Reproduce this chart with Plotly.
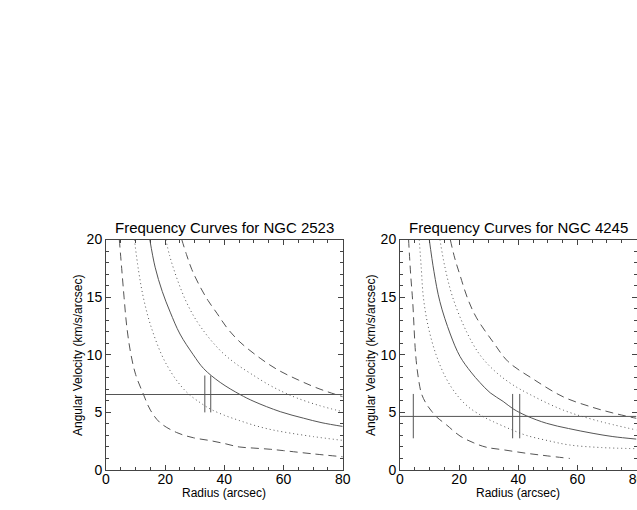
import plotly.graph_objects as go

# NGC 2523 (left panel)
l_solid_x = [14.8, 16.6, 19, 21.7, 25, 29.5, 33, 38.6, 45.3, 50, 58.9, 66.7, 73, 80]
l_solid_y = [20, 17.6, 15.5, 13.7, 11.8, 10.0, 8.8, 7.6, 6.55, 5.95, 5.06, 4.5, 4.1, 3.78]
l_dot_lo_x = [9.6, 11, 12.6, 14.9, 18.8, 22.2, 25, 27.9, 31.5, 35.2, 40, 45, 49.8, 55, 60, 70, 80]
l_dot_lo_y = [20, 17.3, 15, 12.7, 10, 8.4, 7.4, 6.6, 5.9, 5.3, 4.75, 4.3, 3.9, 3.55, 3.3, 2.9, 2.57]
l_dot_hi_x = [20.2, 21.5, 23, 25, 27.3, 30, 32.9, 36, 39.7, 44, 48.7, 55, 60, 64.5, 72, 80]
l_dot_hi_y = [20, 18.6, 17.35, 15.9, 14.5, 13.2, 12.1, 11.1, 10.1, 9.2, 8.4, 7.4, 6.75, 6.25, 5.6, 5.06]
l_dash_lo_x = [4.5, 5.3, 6.1, 7, 8.3, 10, 12.6, 15, 18.3, 23.9, 29.5, 35.2, 40.3, 45, 50, 55.5, 60, 70, 80]
l_dash_lo_y = [20, 17.5, 15, 12.5, 10.2, 8.3, 6.6, 5.2, 4.1, 3.25, 2.8, 2.55, 2.28, 2.0, 1.9, 1.8, 1.68, 1.4, 1.15]
l_dash_hi_x = [25.6, 27.2, 29, 31.8, 34.5, 37.5, 41, 45.3, 52.1, 58, 65.1, 72, 80]
l_dash_hi_y = [20, 18.7, 17.4, 15.9, 14.7, 13.6, 12.3, 11.1, 9.7, 8.7, 7.8, 7.05, 6.36]
l_omega_p = 6.55
l_bars_x = [33.4, 35.4]
l_bar_lo, l_bar_hi = 5.0, 8.2

# NGC 4245 (right panel)
r_solid_x = [9.9, 11.5, 13.5, 17, 20.3, 24, 27, 30.5, 34.9, 38.3, 42.8, 49.6, 57, 65.3, 72, 80]
r_solid_y = [20, 17.2, 14.6, 11.8, 9.85, 8.5, 7.6, 6.7, 5.95, 5.3, 4.7, 4.05, 3.6, 3.18, 2.9, 2.68]
r_dot_lo_x = [6.5, 7.2, 7.9, 9.5, 12.2, 15.5, 19.1, 23, 28.2, 31.5, 38, 42.8, 50, 57.4, 68, 80]
r_dot_lo_y = [20, 17.5, 15, 12.5, 10, 8.0, 6.56, 5.5, 4.62, 4.2, 3.47, 3.0, 2.55, 2.17, 1.95, 1.85]
r_dot_hi_x = [13.5, 15.2, 17.8, 22.5, 27, 32, 37.5, 43.9, 55.2, 66.4, 80]
r_dot_hi_y = [20, 17.6, 15, 12, 10, 8.6, 7.5, 6.56, 5.2, 4.3, 3.47]
r_dash_lo_x = [2.9, 3.6, 4.3, 5.3, 6.2, 7.3, 9, 10.7, 12.4, 15.8, 20.3, 25, 29.3, 35, 42.8, 50, 57.5]
r_dash_lo_y = [20, 17, 14.6, 10, 8, 6.6, 5.7, 5.1, 4.6, 3.9, 2.95, 2.35, 1.97, 1.75, 1.45, 1.22, 1.0]
r_dash_hi_x = [17, 18.5, 20.3, 23, 25.9, 31.5, 36.6, 45, 55.2, 65, 72, 80]
r_dash_hi_y = [20, 18.4, 16.9, 14.8, 13.2, 11.1, 9.4, 7.9, 6.35, 5.45, 4.95, 4.48]
r_omega_p = 4.65
r_bars_x = [4.5, 38.1, 40.5]
r_bar_lo, r_bar_hi = 2.75, 6.6

titles = ["Frequency Curves for NGC 2523", "Frequency Curves for NGC 4245"]

LINE = "#555555"
AXIS = "#444444"
FONT = "Liberation Sans, Arial, sans-serif"
DASH = "8px,5px"
DOT = "1px,3px"

fig = go.Figure()


def add_panel(xa, ya, curves, omega_p, bars_x, bar_lo, bar_hi):
    for xs, ys, dash in curves:
        fig.add_trace(go.Scatter(
            x=xs, y=ys, mode="lines", xaxis=xa, yaxis=ya,
            line=dict(color=LINE, width=1, dash=dash, shape="spline", smoothing=1),
            hoverinfo="skip", showlegend=False,
        ))
    # pattern speed line
    fig.add_trace(go.Scatter(
        x=[0, 80], y=[omega_p, omega_p], mode="lines", xaxis=xa, yaxis=ya,
        line=dict(color=LINE, width=1), hoverinfo="skip", showlegend=False,
    ))
    for bx in bars_x:
        fig.add_trace(go.Scatter(
            x=[bx, bx], y=[bar_lo, bar_hi], mode="lines", xaxis=xa, yaxis=ya,
            line=dict(color=LINE, width=1), hoverinfo="skip", showlegend=False,
        ))


add_panel("x", "y", [
    (l_solid_x, l_solid_y, "solid"),
    (l_dot_lo_x, l_dot_lo_y, DOT),
    (l_dot_hi_x, l_dot_hi_y, DOT),
    (l_dash_lo_x, l_dash_lo_y, DASH),
    (l_dash_hi_x, l_dash_hi_y, DASH),
], l_omega_p, l_bars_x, l_bar_lo, l_bar_hi)

add_panel("x2", "y2", [
    (r_solid_x, r_solid_y, "solid"),
    (r_dot_lo_x, r_dot_lo_y, DOT),
    (r_dot_hi_x, r_dot_hi_y, DOT),
    (r_dash_lo_x, r_dash_lo_y, DASH),
    (r_dash_hi_x, r_dash_hi_y, DASH),
], r_omega_p, r_bars_x, r_bar_lo, r_bar_hi)

W, H = 637, 510
ybot, ytop = (H - 470) / H, (H - 239.5) / H
xdom1 = [106 / W, 342.7 / W]
xdom2 = [400 / W, 636.5 / W]

xax = dict(
    range=[0, 80], tickvals=[0, 20, 40, 60, 80], ticks="inside", ticklen=5,
    tickcolor=AXIS, showline=True, linecolor=AXIS, linewidth=1, mirror="ticks",
    showgrid=False, zeroline=False, automargin=False, ticklabelstandoff=-4,
    ticklabeloverflow="allow", tickfont=dict(size=14, color="black"),
    minor=dict(dtick=5, ticks="inside", ticklen=3, tickcolor=AXIS),
)
yax = dict(
    range=[0, 20], tickvals=[0, 5, 10, 15, 20], ticks="inside", ticklen=5,
    tickcolor=AXIS, showline=True, linecolor=AXIS, linewidth=1, mirror="ticks",
    showgrid=False, zeroline=False, automargin=False,
    tickfont=dict(size=14, color="black"),
    minor=dict(dtick=1, ticks="inside", ticklen=3, tickcolor=AXIS),
)

fig.update_layout(
    width=W, height=H,
    margin=dict(l=0, r=0, t=0, b=0),
    paper_bgcolor="white", plot_bgcolor="white",
    font=dict(family=FONT, color="black"),
    xaxis=dict(xax, domain=xdom1, anchor="y"),
    yaxis=dict(yax, domain=[ybot, ytop], anchor="x"),
    xaxis2=dict(xax, domain=xdom2, anchor="y2"),
    yaxis2=dict(yax, domain=[ybot, ytop], anchor="x2"),
    showlegend=False,
)

annos = []
for dom, t, ytx in [(xdom1, titles[0], 78), (xdom2, titles[1], 371)]:
    cx = (dom[0] + dom[1]) / 2
    annos.append(dict(text=t, x=cx, y=(H - 227) / H, xref="paper", yref="paper",
                      showarrow=False, font=dict(size=15), xanchor="center", yanchor="middle"))
    annos.append(dict(text="Radius (arcsec)", x=cx, y=(H - 493) / H, xref="paper", yref="paper",
                      showarrow=False, font=dict(size=12), xanchor="center", yanchor="middle"))
    annos.append(dict(text="Angular Velocity (km/s/arcsec)", x=ytx / W, y=(H - 356) / H,
                      xref="paper", yref="paper", textangle=-90, showarrow=False,
                      font=dict(size=12), xanchor="center", yanchor="middle"))
fig.update_layout(annotations=annos)

# the page body has a default 8px margin; drop it so the figure sits at 0,0
fig.write_html(
    "out.html",
    config={"displayModeBar": False},
    post_script="document.body.style.margin='0';document.body.style.overflow='hidden';",
)
